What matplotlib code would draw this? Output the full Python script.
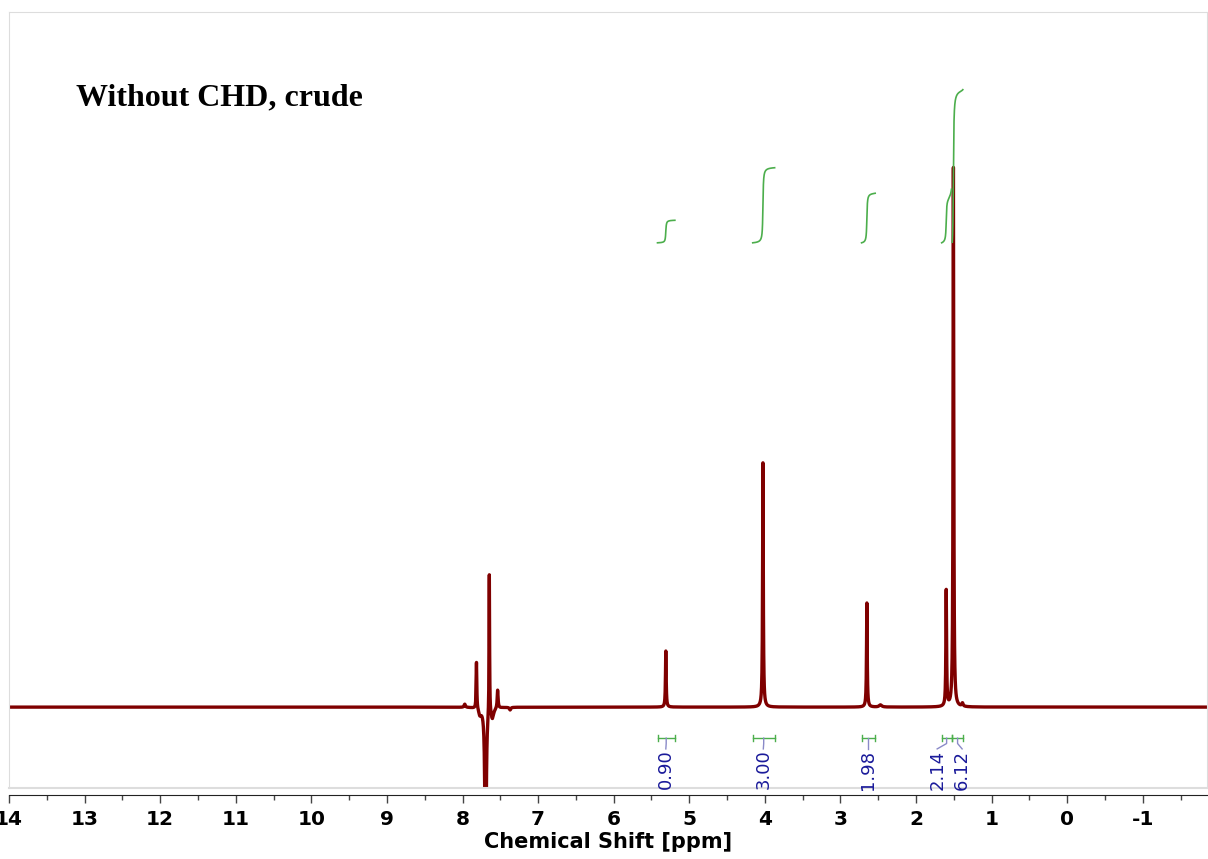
import numpy as np
import matplotlib.pyplot as plt
from matplotlib.ticker import MultipleLocator

plt.rcParams['axes.unicode_minus'] = False

# peaks: position [ppm], height (tallest = 100), half width [ppm]
peak_ppm = [1.505, 1.60, 1.385, 2.65, 2.47, 4.025, 5.31,
            7.97, 7.815, 7.77, 7.695, 7.645, 7.605, 7.535, 7.37]
peak_height = [100, 21.5, 0.6, 19.3, 0.4, 45.3, 10.4,
               0.6, 8.7, -1.2, -40, 26.2, -2.0, 3.4, -0.5]
peak_width = [0.0055, 0.0055, 0.01, 0.0055, 0.02, 0.0055, 0.0055,
              0.01, 0.005, 0.02, 0.009, 0.004, 0.02, 0.007, 0.01]

# integration regions
int_values = ["0.90", "3.00", "1.98", "2.14", "6.12"]
int_start = [5.42, 4.16, 2.72, 1.66, 1.52]
int_end = [5.19, 3.87, 2.54, 1.53, 1.38]
label_ppm = [5.31, 4.02, 2.63, 1.72, 1.39]

x_ticks = list(range(-1, 15))

red = '#7f0000'
green = '#4cae4c'
navy = '#1a1a9a'

ppm = np.arange(-1.9, 14.05, 0.0005)
spec = np.zeros_like(ppm)
for p, h, w in zip(peak_ppm, peak_height, peak_width):
    spec += h / (1 + ((ppm - p) / w) ** 2)

fig = plt.figure(figsize=(12.08, 8.59), dpi=100)
ax = fig.add_axes([9 / 1208, 1 - 788 / 859, 1198 / 1208, 776 / 859])

ax.plot(ppm, spec, color=red, lw=2.4, solid_joinstyle='round')

# integral curves, starting at a common base
base = 86.1
scale = 4.64
for val, a, b in zip(int_values, int_start, int_end):
    m = (ppm <= a) & (ppm >= b)
    seg_x = ppm[m][::-1]
    seg_y = spec[m][::-1]
    cum = np.cumsum(seg_y)
    cum = cum / cum[-1] * float(val) * scale
    ax.plot(seg_x, base + cum, color=green, lw=1.2)

# integral labels and range markers
bar_y = -5.75
for val, a, b, lp in zip(int_values, int_start, int_end, label_ppm):
    ax.plot([a, b], [bar_y, bar_y], color=green, lw=1)
    ax.plot([a, a], [bar_y - 0.6, bar_y + 0.6], color=green, lw=1)
    ax.plot([b, b], [bar_y - 0.6, bar_y + 0.6], color=green, lw=1)
    mid = (a + b) / 2
    ax.plot([mid, mid, lp], [bar_y, bar_y - 1.0, bar_y - 2.0], color='#8a8ac8', lw=1)
    ax.text(lp, -7.9, val, rotation=90, ha='center', va='top',
            color=navy, fontsize=13)

ax.set_xlim(14.0, -1.85)
ax.set_ylim(-15.0, 128.9)

for s in ['top', 'left', 'right']:
    ax.spines[s].set_color('#dddddd')
ax.spines['bottom'].set_color('#222222')
ax.spines['bottom'].set_position(('outward', 5))
ax.plot([0, 1], [0, 0], transform=ax.transAxes, color='#dddddd', lw=1.5, clip_on=False)

ax.set_yticks([])
ax.set_xticks(x_ticks)
ax.xaxis.set_minor_locator(MultipleLocator(0.5))
ax.tick_params(axis='x', which='major', length=6, width=1, color='#444444', pad=5,
               labelsize=14.5)
ax.tick_params(axis='x', which='minor', length=3.5, width=1, color='#444444')
for lab in ax.get_xticklabels():
    lab.set_fontweight('bold')

ax.set_xlabel('Chemical Shift [ppm]', fontsize=15, fontweight='bold', labelpad=2)

ax.text(0.056, 0.889, 'Without CHD, crude', transform=ax.transAxes, va='center',
        ha='left', fontsize=23, fontweight='bold', family='Liberation Serif')

fig.savefig('out.png', dpi=100)
